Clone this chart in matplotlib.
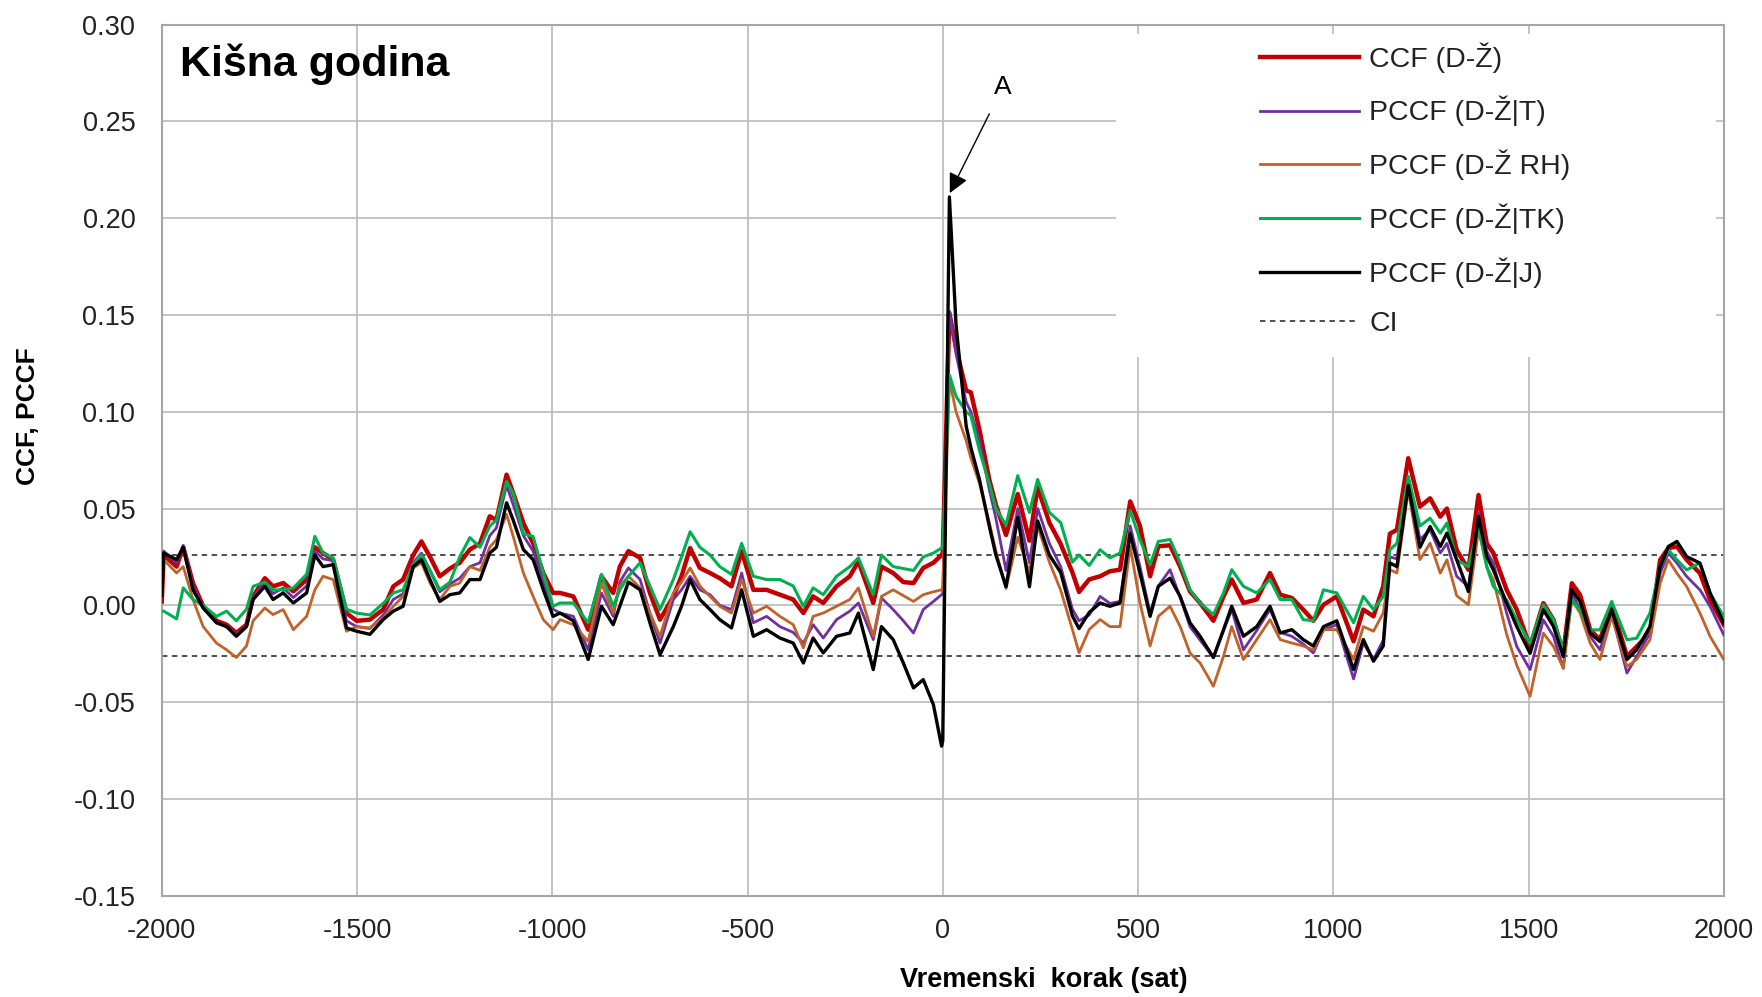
import numpy as np
import matplotlib
matplotlib.use("Agg")
import matplotlib.pyplot as plt
from matplotlib.patches import Rectangle

plt.rcParams['font.family'] = ['Liberation Sans', 'DejaVu Sans']
plt.rcParams['axes.unicode_minus'] = False

# lag (hours) and the five curves
lag = [
    -2000, -1995, -1962, -1945, -1920, -1894, -1860, -1834, -1809, -1783,
    -1766, -1736, -1715, -1689, -1663, -1629, -1608, -1587, -1561, -1527,
    -1501, -1467, -1433, -1407, -1382, -1356, -1335, -1313, -1288, -1262,
    -1237, -1211, -1185, -1160, -1143, -1117, -1100, -1074, -1049, -1023,
    -998,
    -980, -946, -908, -874, -844, -827, -805, -775, -750, -724,
    -690, -669, -647, -622, -596, -571, -541, -515, -485, -451,
    -417, -383, -357, -332, -306, -272, -238, -216, -178, -157,
    -127, -101, -75, -50, -24, -3,
    0, 17, 34, 60, 72, 94, 119, 136, 162, 192, 222, 243, 273, 302, 332, 349, 375,
    403, 428, 454, 480, 505, 531, 552, 582, 608, 633,
    659, 693, 719, 740, 770, 804, 838, 864, 894, 923,
    949, 975, 1009, 1052, 1077, 1103, 1128, 1145, 1163, 1192,
    1222,
    1248, 1274, 1291, 1316, 1346, 1372, 1393, 1410, 1444, 1470,
    1504, 1538, 1564, 1589, 1611, 1632, 1658, 1683, 1713, 1752,
    1777, 1811, 1837, 1858, 1880, 1905, 1939, 1965, 2000,
]

ccf = [
    0.002, 0.026, 0.020, 0.030, 0.0115, -0.0005, -0.008, -0.010, -0.0143, -0.010,
    0.0046, 0.014, 0.0098, 0.0115, 0.0072, 0.0133, 0.030, 0.027, 0.0236, -0.004,
    -0.008, -0.0074, -0.0022, 0.0098, 0.0133, 0.026, 0.033, 0.025, 0.015, 0.019,
    0.022, 0.0288, 0.032, 0.046, 0.044, 0.0675, 0.058, 0.0425, 0.032, 0.0167,
    0.0064,
    0.0064, 0.0046, -0.0126, 0.015, 0.0064, 0.020, 0.028, 0.0245, 0.0064, -0.0074,
    0.0046, 0.015, 0.0296, 0.0193, 0.0167, 0.014, 0.0098, 0.028, 0.008, 0.008,
    0.0055, 0.003, -0.004, 0.0046, 0.0012, 0.0098, 0.015, 0.0227, 0.0012, 0.020,
    0.0167, 0.012, 0.0115, 0.0193, 0.022, 0.026,
    0.027, 0.151, 0.133, 0.111, 0.110, 0.0907, 0.065, 0.052, 0.0363, 0.0575,
    0.0334, 0.061, 0.0427, 0.0317, 0.017, 0.0069, 0.0134,
    0.015, 0.0176, 0.0184, 0.0537, 0.041, 0.015, 0.0305, 0.031, 0.020, 0.0072,
    0.0012, -0.008, 0.0046, 0.0133, 0.0012, 0.003, 0.0167, 0.0055, 0.0038, -0.0022,
    -0.008, 0.0003, 0.0046, -0.0186, -0.0022, -0.0057, 0.0098, 0.037, 0.039, 0.076,
    0.051,
    0.0553, 0.0458, 0.050, 0.0287, 0.0184, 0.057, 0.032, 0.027, 0.008, -0.0023,
    -0.0213, 0.0011, -0.0075, -0.0247, 0.0114, 0.0054, -0.0127, -0.0178, 0.0003, -0.0264,
    -0.0213, -0.0144, 0.0235, 0.0295, 0.0304, 0.0235, 0.0166, 0.0028, -0.010,
]

pccf_t = [
    0.026, 0.028, 0.022, 0.031, 0.010, -0.001, -0.009, -0.011, -0.015, -0.011,
    0.004, 0.012, 0.006, 0.009, 0.004, 0.010, 0.028, 0.024, 0.023, -0.008,
    -0.011, -0.012, -0.005, 0.003, 0.006, 0.022, 0.027, 0.018, 0.007, 0.011,
    0.014, 0.020, 0.022, 0.036, 0.040, 0.062, 0.052, 0.036, 0.028, 0.012,
    -0.002,
    -0.004, -0.0057, -0.023, 0.0064, -0.0057, 0.012, 0.0193, 0.0133, -0.004, -0.0195,
    0.003, 0.008, 0.015, 0.008, 0.0055, 0.000, -0.0022, 0.0167, -0.009, -0.0057,
    -0.011, -0.014, -0.0195, -0.010, -0.0169, -0.0074, -0.003, 0.0012, -0.0177, 0.0038,
    -0.0022, -0.008, -0.0143, -0.0022, 0.002, 0.0055,
    0.006, 0.152, 0.130, 0.105, 0.100, 0.085, 0.060, 0.045, 0.018, 0.050,
    0.022, 0.050, 0.032, 0.020, -0.002, -0.008, -0.005,
    0.0046, 0.001, 0.002, 0.041, 0.020, -0.004, 0.010, 0.0184, 0.004, -0.011,
    -0.018, -0.027, -0.013, -0.0022, -0.023, -0.013, -0.0022, -0.014, -0.016, -0.020,
    -0.0246, -0.0126, -0.010, -0.038, -0.0195, -0.028, -0.018, 0.025, 0.024, 0.0666,
    0.034,
    0.039, 0.027, 0.032, 0.015, 0.0097, 0.0476, 0.028, 0.0218, -0.004, -0.0213,
    -0.0333, -0.0075, -0.0161, -0.0325, 0.0063, -0.0023, -0.0161, -0.023, -0.004, -0.035,
    -0.0264, -0.0144, 0.0166, 0.027, 0.0218, 0.0149, 0.008, -0.0006, -0.0153,
]

pccf_rh = [
    0.020, 0.0236, 0.0167, 0.020, 0.003, -0.011, -0.0195, -0.023, -0.027, -0.021,
    -0.008, -0.0014, -0.0048, -0.0022, -0.0126, -0.0057, 0.008, 0.015, 0.0133, -0.0134,
    -0.011, -0.0117, -0.0065, -0.0005, 0.0046, 0.0193, 0.022, 0.0115, 0.003, 0.0098,
    0.0115, 0.020, 0.018, 0.030, 0.034, 0.047, 0.0356, 0.0167, 0.0046, -0.0074,
    -0.0126,
    -0.0074, -0.010, -0.0186, 0.0115, -0.004, 0.010, 0.015, 0.009, -0.004, -0.016,
    0.0064, 0.012, 0.0193, 0.010, 0.0046, -0.0005, -0.004, 0.0133, -0.004, -0.0005,
    -0.0057, -0.010, -0.022, -0.0057, -0.004, -0.0005, 0.003, 0.009, -0.016, 0.0046,
    0.008, 0.005, 0.002, 0.0055, 0.007, 0.008,
    0.009, 0.1165, 0.100, 0.085, 0.076, 0.063, 0.043, 0.028, 0.0087, 0.0352,
    0.017, 0.041, 0.0223, 0.0078, -0.0125, -0.0245, -0.0125,
    -0.0074, -0.011, -0.011, 0.0305, 0.0012, -0.021, -0.0057, -0.0005, -0.011, -0.0246,
    -0.0298, -0.0418, -0.0263, -0.011, -0.028, -0.0177, -0.0074, -0.0177, -0.0195, -0.021,
    -0.023, -0.0126, -0.0126, -0.028, -0.011, -0.0134, -0.004, 0.0184, 0.0167, 0.0597,
    0.0236,
    0.0321, 0.0166, 0.0235, 0.005, 0.0003, 0.039, 0.020, 0.0132, -0.015, -0.031,
    -0.047, -0.0144, -0.0213, -0.0325, 0.0028, -0.004, -0.0196, -0.028, -0.0058, -0.0316,
    -0.028, -0.0178, 0.0114, 0.0235, 0.0166, 0.0097, -0.004, -0.0161, -0.028,
]

pccf_tk = [
    -0.003, -0.003, -0.007, 0.009, 0.003, 0.000, -0.0057, -0.003, -0.008, -0.002,
    0.0098, 0.012, 0.008, 0.008, 0.009, 0.016, 0.0356, 0.027, 0.0245, -0.002,
    -0.004, -0.005, 0.001, 0.0064, 0.008, 0.021, 0.026, 0.018, 0.008, 0.012,
    0.025, 0.035, 0.030, 0.041, 0.044, 0.064, 0.058, 0.037, 0.0356, 0.0167,
    -0.0005,
    0.0012, 0.0012, -0.009, 0.016, -0.0005, 0.008, 0.015, 0.022, 0.010, -0.0022,
    0.0133, 0.025, 0.038, 0.030, 0.026, 0.020, 0.016, 0.032, 0.015, 0.0133,
    0.0133, 0.010, -0.0005, 0.009, 0.0055, 0.015, 0.020, 0.0245, 0.0055, 0.026,
    0.020, 0.019, 0.018, 0.025, 0.027, 0.0296,
    0.030, 0.119, 0.108, 0.100, 0.098, 0.080, 0.063, 0.050, 0.0415, 0.067,
    0.048, 0.065, 0.048, 0.0427, 0.0223, 0.026, 0.0206,
    0.0287, 0.0245, 0.027, 0.049, 0.034, 0.021, 0.033, 0.034, 0.022, 0.008,
    0.0012, -0.0048, 0.0064, 0.0184, 0.0098, 0.0064, 0.0133, 0.003, 0.003, -0.0074,
    -0.008, 0.008, 0.0064, -0.009, 0.0046, -0.0022, 0.0046, 0.0287, 0.032, 0.0666,
    0.041,
    0.045, 0.0373, 0.0425, 0.0235, 0.020, 0.0407, 0.020, 0.0097, 0.0028, -0.0075,
    -0.0196, 0.0003, -0.0075, -0.023, 0.0028, -0.0023, -0.0127, -0.0127, 0.002, -0.0178,
    -0.017, -0.004, 0.020, 0.0287, 0.0235, 0.0183, 0.0218, 0.0063, -0.0058,
]

pccf_j = [
    0.005, 0.027, 0.0236, 0.030, 0.008, -0.0014, -0.009, -0.011, -0.016, -0.011,
    0.003, 0.0098, 0.003, 0.0064, 0.0012, 0.0064, 0.026, 0.020, 0.021, -0.0117,
    -0.0134, -0.015, -0.0074, -0.003, -0.0005, 0.020, 0.0236, 0.0133, 0.002, 0.0055,
    0.0064, 0.0133, 0.0133, 0.027, 0.030, 0.053, 0.044, 0.0288, 0.0236, 0.008,
    -0.0057,
    -0.004, -0.008, -0.028, -0.0005, -0.010, -0.0005, 0.012, 0.008, -0.009, -0.0255,
    -0.011, -0.0005, 0.0133, 0.003, -0.0022, -0.0074, -0.0117, 0.008, -0.016, -0.0126,
    -0.0169, -0.0195, -0.0298, -0.0169, -0.0246, -0.016, -0.0143, -0.004, -0.0332, -0.011,
    -0.0177, -0.0298, -0.0427, -0.0384, -0.0513, -0.0728,
    -0.070, 0.211, 0.145, 0.0926, 0.0815, 0.065, 0.041, 0.026, 0.0096, 0.0454,
    0.0096, 0.0436, 0.026, 0.017, -0.0055, -0.012, -0.0037,
    0.0012, -0.0005, 0.0012, 0.037, 0.0167, -0.0057, 0.0098, 0.014, 0.0046, -0.009,
    -0.016, -0.027, -0.0126, -0.0005, -0.016, -0.011, -0.0005, -0.0143, -0.0126, -0.0177,
    -0.021, -0.011, -0.008, -0.0332, -0.0177, -0.0289, -0.021, 0.0219, 0.020, 0.062,
    0.030,
    0.0407, 0.0304, 0.0373, 0.0235, 0.0071, 0.0459, 0.0252, 0.0183, 0.0011, -0.011,
    -0.0248, -0.0023, -0.011, -0.0265, 0.008, 0.002, -0.0144, -0.0187, -0.0023, -0.028,
    -0.023, -0.011, 0.020, 0.0304, 0.033, 0.0252, 0.0218, 0.0063, -0.0092,
]

ci = 0.026

labels = ['CCF (D-Ž)', 'PCCF (D-Ž|T)', 'PCCF (D-Ž RH)', 'PCCF (D-Ž|TK)', 'PCCF (D-Ž|J)']
colors = ['#C00000', '#7030A0', '#C0622A', '#00B050', '#000000']
widths = [3.2, 2.0, 2.0, 2.2, 2.4]

fig = plt.figure(figsize=(17.62, 9.97), dpi=100)
ax = fig.add_axes([0.0918, 0.1017, 0.8865, 0.8735])

for y, lab, c, w in zip([ccf, pccf_t, pccf_rh, pccf_tk, pccf_j], labels, colors, widths):
    ax.plot(lag, y, color=c, lw=w, label=lab, zorder=3)

ax.axhline(ci, color='#404040', lw=1.3, ls=(0, (3, 2.5)), label='CI', zorder=2)
ax.axhline(-ci, color='#404040', lw=1.3, ls=(0, (3, 2.5)), zorder=2)

ax.set_xlim(-2000, 2000)
ax.set_ylim(-0.15, 0.30)
ax.set_xticks(np.arange(-2000, 2001, 500))
ax.set_yticks(np.arange(-0.15, 0.301, 0.05))
ax.yaxis.set_major_formatter(matplotlib.ticker.FormatStrFormatter('%.2f'))
ax.tick_params(length=0, labelsize=19.5, labelcolor='#222222')
ax.tick_params(axis='y', pad=19)
ax.tick_params(axis='x', pad=16)
ax.grid(True, color='#BFBFBF', lw=1.3)
ax.set_axisbelow(True)
for s in ax.spines.values():
    s.set_color('#A6A6A6')
    s.set_linewidth(1.5)

# white area behind the legend hides the grid there
ax.add_patch(Rectangle((0.611, 0.618), 0.384, 0.371, transform=ax.transAxes,
                       facecolor='white', edgecolor='none', zorder=1))

ax.set_xlabel('Vremenski  korak (sat)', fontsize=19.5, fontweight='bold')
ax.xaxis.set_label_coords(0.565, -0.097)
ax.xaxis.label.set_va('center')
ax.set_ylabel('CCF, PCCF', fontsize=19, fontweight='bold')
ax.yaxis.set_label_coords(-0.0857, 0.551)
ax.yaxis.label.set_va('center')

ax.text(0.0115, 0.955, 'Kišna godina', transform=ax.transAxes, fontsize=31,
        fontweight='bold', va='center', ha='left')

ax.annotate('A', xy=(18, 0.213), xytext=(154, 0.268), fontsize=19,
            ha='center', va='center',
            arrowprops=dict(arrowstyle='-|>', color='black', lw=1.0,
                            mutation_scale=30, shrinkA=10, shrinkB=0))

leg = ax.legend(loc='upper left', bbox_to_anchor=(0.703, 0.98), frameon=False,
                fontsize=20.5, handlelength=3.5, handletextpad=0.35,
                labelspacing=0.82, borderpad=0, borderaxespad=0)
for t in leg.get_texts():
    t.set_color('#222222')

fig.savefig('out.png', dpi=100)
